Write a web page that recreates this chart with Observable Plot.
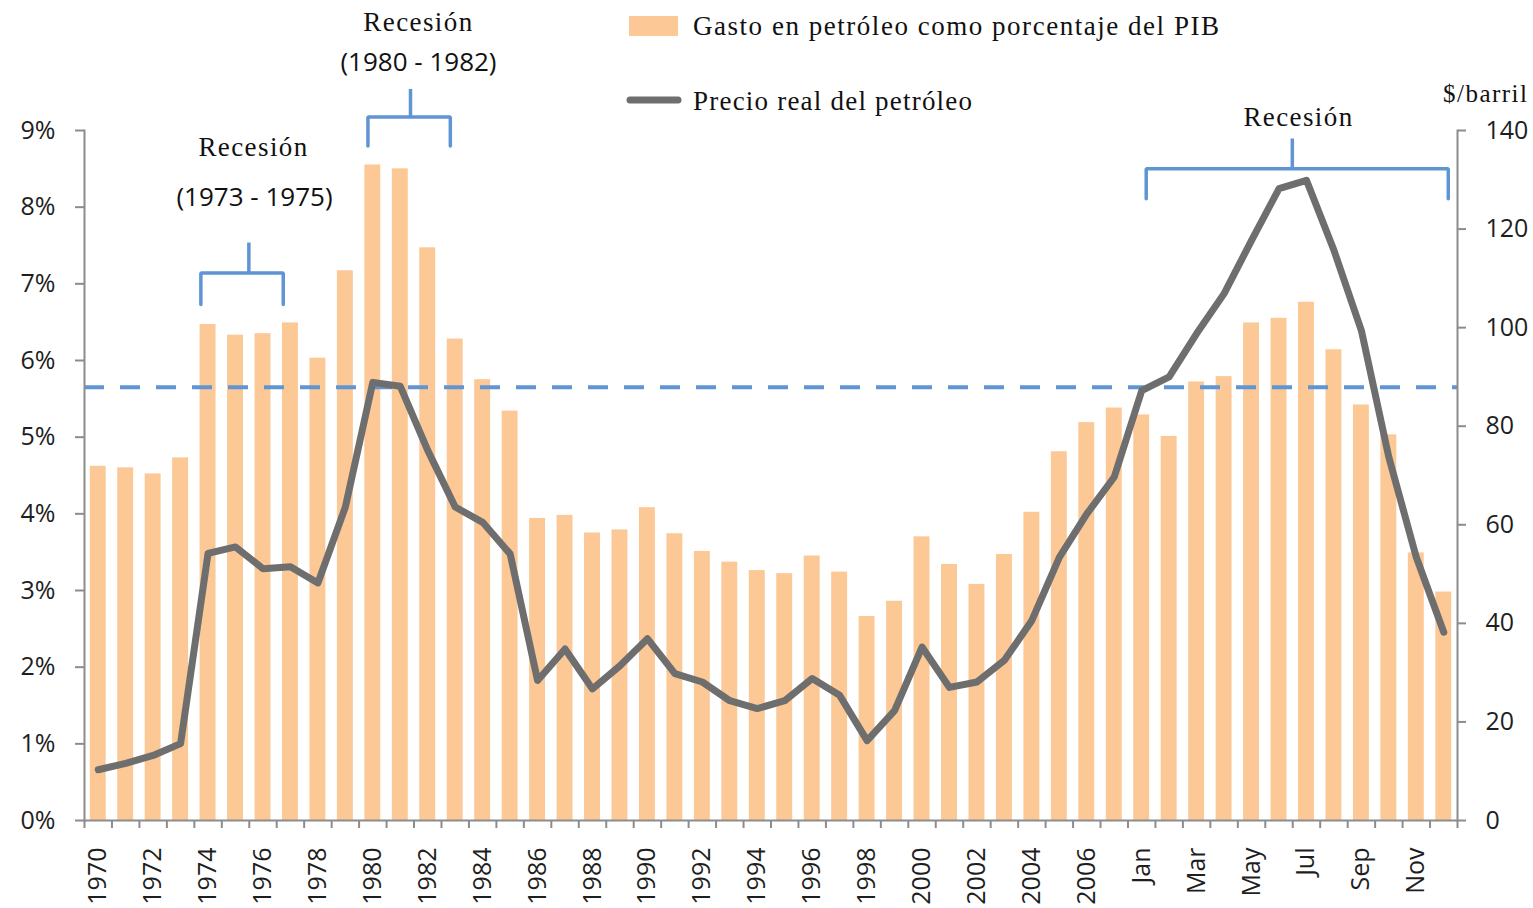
<!DOCTYPE html>
<html><head><meta charset="utf-8">
<script src="https://cdn.jsdelivr.net/npm/d3@7"></script>
<script src="https://cdn.jsdelivr.net/npm/@observablehq/plot@0.6"></script>
<style>
html,body{margin:0;padding:0;background:#fff;}
#chart{position:relative;width:1533px;height:908px;}
g[font-family="Liberation Serif"] text{letter-spacing:1.4px;}
</style></head><body><div id="chart"></div>
<script>
// ---- data ----
const categorias = ["1970","1971","1972","1973","1974","1975","1976","1977","1978","1979",
  "1980","1981","1982","1983","1984","1985","1986","1987","1988","1989",
  "1990","1991","1992","1993","1994","1995","1996","1997","1998","1999",
  "2000","2001","2002","2003","2004","2005","2006","2007",
  "Jan","Feb","Mar","Apr","May","Jun","Jul","Aug","Sep","Oct","Nov","Dec"];
// Gasto en petróleo como porcentaje del PIB (%)
const gasto = [4.62,4.60,4.52,4.73,6.47,6.33,6.35,6.49,6.03,7.17,
  8.55,8.50,7.47,6.28,5.75,5.34,3.94,3.98,3.75,3.79,
  4.08,3.74,3.51,3.37,3.26,3.22,3.45,3.24,2.66,2.86,
  3.70,3.34,3.08,3.47,4.02,4.81,5.19,5.38,
  5.29,5.01,5.72,5.79,6.49,6.55,6.76,6.14,5.42,5.03,3.49,2.98];
// Precio real del petróleo ($/barril)
const precio = [10.3,11.6,13.2,15.6,54.2,55.5,51.1,51.5,48.2,63.6,
  88.9,88.1,75.1,63.6,60.5,54.1,28.4,34.8,26.7,31.4,
  36.9,29.8,28.1,24.3,22.7,24.3,28.8,25.4,16.2,22.3,
  35.2,27.0,28.1,32.5,40.6,53.4,62.2,69.7,
  87.2,90.0,98.8,106.9,117.7,128.2,129.9,115.7,99.4,73.7,53.4,38.2];
const ticksPct = [0,1,2,3,4,5,6,7,8,9];
const ticksPrecio = [0,20,40,60,80,100,120,140];
const etiquetasX = ["1970","1972","1974","1976","1978","1980","1982","1984","1986","1988",
  "1990","1992","1994","1996","1998","2000","2002","2004","2006","Jan","Mar","May","Jul","Sep","Nov"];
const promedio = 5.65;
const maxPct = 9, maxPrecio = 140;

// ---- layout ----
const W = 1533, H = 908, mL = 84, mR = 76, mT = 130, mB = 88;
const step = (W - mL - mR) / categorias.length;
const unit = (H - mT - mB) / maxPct;          // pixels per 1%
const px = p => p / unit;                      // pixels -> y units
const yAt = py => (H - mB - py) / unit;        // page y -> y units
const toPct = v => v * maxPct / maxPrecio;

const colorBarra = "#fcc896";
const colorLinea = "#6e6e6e";
const colorAzul = "#5f95d3";
const colorEje = "#8c8c8c";
const serif = "Liberation Serif";

const datos = categorias.map((c, i) => ({c, gasto: gasto[i], precio: precio[i]}));

function corchete(a, b, m, dx, dxm, yh, yb, yt) {
  const pts = [{x: a, y: yb}, {x: a, y: yh}, {x: b, y: yh}, {x: b, y: yb}];
  return [
    Plot.line(pts, {x: "x", y: "y", dx, stroke: colorAzul, strokeWidth: 3.5, strokeLinejoin: "miter"}),
    Plot.ruleX([m], {x: d => d, y1: yh, y2: yt, dx: dxm, stroke: colorAzul, strokeWidth: 3.5})
  ];
}

const chart = Plot.plot({
  width: W, height: H,
  marginLeft: mL, marginRight: mR, marginTop: mT, marginBottom: mB,
  style: {fontFamily: "'Open Sans', sans-serif", color: "#1e1e1e", background: "#fff", overflow: "visible"},
  x: {type: "band", domain: categorias, paddingInner: 0.42, paddingOuter: 0.21, align: 0.5, round: false},
  y: {domain: [0, maxPct]},
  marks: [
    Plot.barY(datos, {x: "c", y: "gasto", fill: colorBarra}),
    Plot.ruleY([promedio], {stroke: colorAzul, strokeWidth: 4, strokeDasharray: "20,16"}),
    Plot.line(datos, {x: "c", y: d => toPct(d.precio), stroke: colorLinea, strokeWidth: 7,
      strokeLinejoin: "round", strokeLinecap: "round"}),
    // axes
    Plot.frame({anchor: "left", stroke: colorEje, strokeWidth: 2}),
    Plot.frame({anchor: "right", stroke: colorEje, strokeWidth: 2}),
    Plot.ruleY([0], {stroke: colorEje, strokeWidth: 2}),
    Plot.ruleX(categorias, {x: d => d, dx: -step / 2, y1: 0, y2: -px(8), stroke: colorEje, strokeWidth: 2}),
    Plot.ruleX([categorias[categorias.length - 1]], {x: d => d, dx: step / 2, y1: 0, y2: -px(8), stroke: colorEje, strokeWidth: 2}),
    Plot.axisY(ticksPct, {anchor: "left", label: null, tickSize: 9, tickPadding: 20, fontSize: 25,
      stroke: colorEje, strokeWidth: 2, tickFormat: d => d + "%"}),
    Plot.axisY(ticksPrecio.map(toPct), {anchor: "right", label: null, tickSize: 8, tickPadding: 20, fontSize: 25,
      stroke: colorEje, strokeWidth: 2, tickFormat: d => String(Math.round(d * maxPrecio / maxPct))}),
    Plot.axisX(etiquetasX, {anchor: "bottom", label: null, tickSize: 0, tickPadding: 27, tickRotate: -90, fontSize: 25}),
    // recession brackets
    ...corchete("1974", "1977", "1975", -7.2, step / 2 - 0.4, yAt(272.5), yAt(304), yAt(242.5)),
    ...corchete("1980", "1983", "1981", -4.9, 10.2, yAt(116.5), yAt(145.5), yAt(89)),
    ...corchete("Jan", "Dec", "Jun", 4.5, 13.3, yAt(168.3), yAt(198.3), yAt(138.5)),
    // recession labels
    Plot.text(["Recesión"], {x: () => "1976", y: yAt(155), dx: -9.5, text: d => d, lineAnchor: "bottom",
      fontFamily: serif, fontSize: 27, fill: "#111"}),
    Plot.text(["(1973 - 1975)"], {x: () => "1976", y: yAt(205), dx: -8.5, text: d => d, lineAnchor: "bottom",
      fontSize: 26, fill: "#111"}),
    Plot.text(["Recesión"], {x: () => "1982", y: yAt(30), dx: -9.3, text: d => d, lineAnchor: "bottom",
      fontFamily: serif, fontSize: 27, fill: "#111"}),
    Plot.text(["(1980 - 1982)"], {x: () => "1982", y: yAt(70), dx: -9.3, text: d => d, lineAnchor: "bottom",
      fontSize: 26, fill: "#111"}),
    Plot.text(["Recesión"], {x: () => "Jul", y: yAt(125), dx: -8, text: d => d, lineAnchor: "bottom",
      fontFamily: serif, fontSize: 27, fill: "#111"})
  ]
});

// legend and right-axis unit
const svg = d3.select(chart);
const leg = svg.append("g").attr("font-family", "'Liberation Serif', serif").attr("fill", "#111")
  .attr("text-anchor", "start");
leg.append("rect").attr("x", 629).attr("y", 16).attr("width", 49).attr("height", 20).attr("fill", colorBarra);
leg.append("text").attr("x", 693).attr("y", 35).attr("font-size", 27).attr("text-anchor", "start")
  .attr("textLength", 526).attr("lengthAdjust", "spacing")
  .text("Gasto en petróleo como porcentaje del PIB");
leg.append("line").attr("x1", 630).attr("x2", 678).attr("y1", 100).attr("y2", 100)
  .attr("stroke", colorLinea).attr("stroke-width", 7).attr("stroke-linecap", "round");
leg.append("text").attr("x", 693).attr("y", 110).attr("font-size", 27).attr("text-anchor", "start")
  .attr("textLength", 279).attr("lengthAdjust", "spacing")
  .text("Precio real del petróleo");
leg.append("text").attr("x", 1443).attr("y", 102).attr("font-size", 25).attr("text-anchor", "start")
  .attr("textLength", 84).attr("lengthAdjust", "spacing")
  .text("$/barril");

document.getElementById("chart").appendChild(chart);
</script></body></html>
